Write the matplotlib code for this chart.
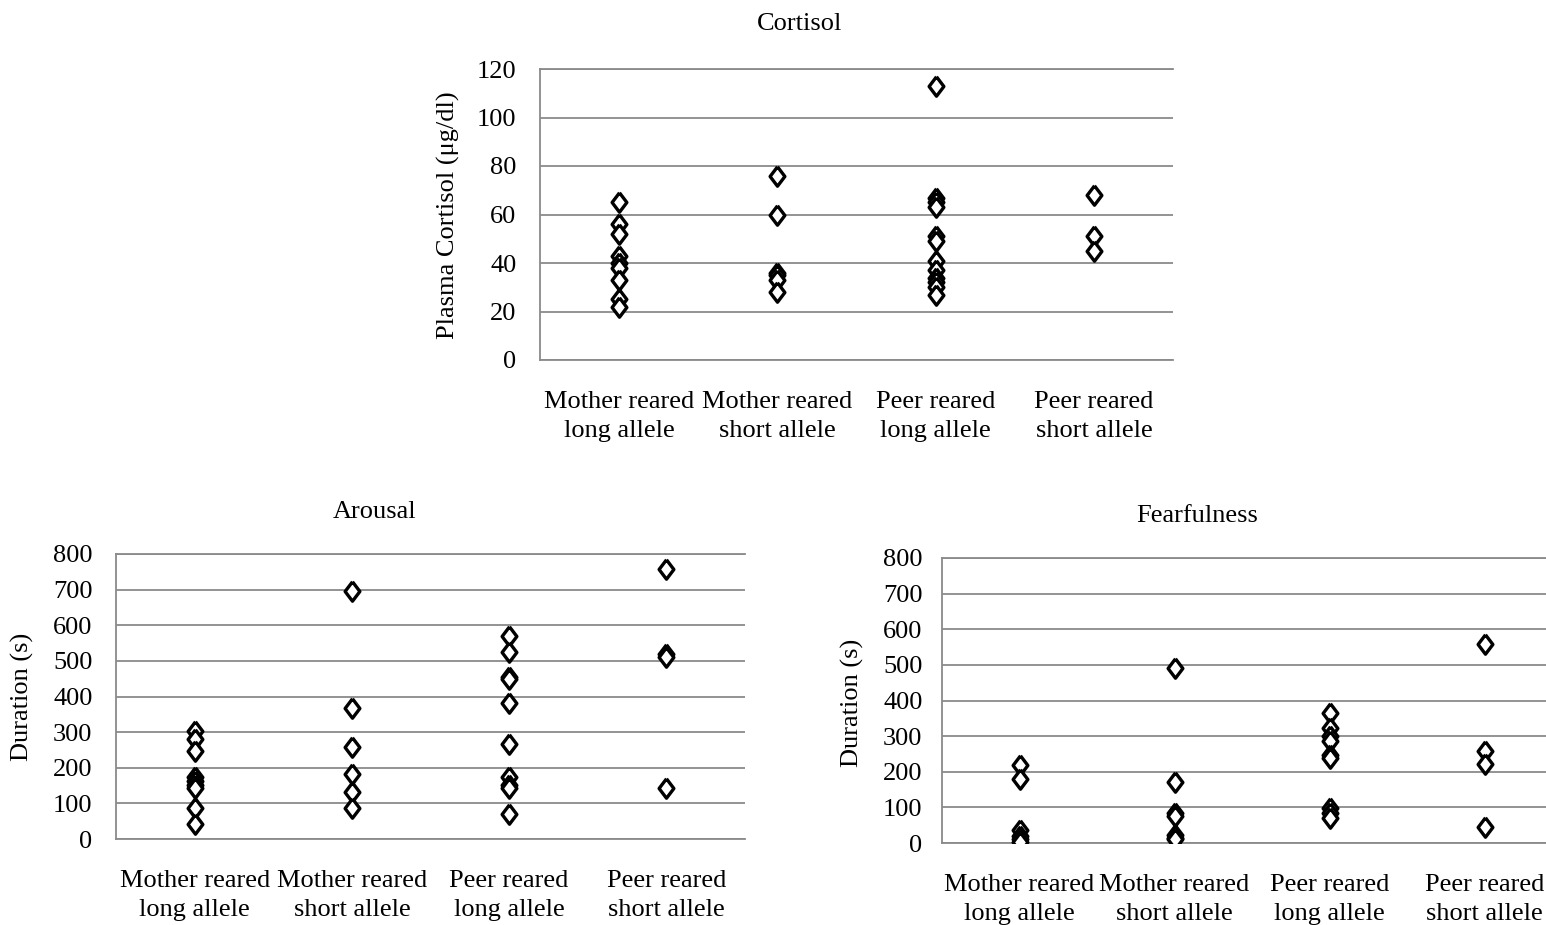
import matplotlib
matplotlib.use("Agg")
import matplotlib.pyplot as plt

groups = ["Mother reared\nlong allele", "Mother reared\nshort allele",
          "Peer reared\nlong allele", "Peer reared\nshort allele"]

# plasma cortisol (ug/dl) per animal
cortisol_ml = [65, 56, 52, 43, 40, 38, 33, 25, 22]
cortisol_ms = [76, 60, 36, 35, 33, 28]
cortisol_pl = [113, 67, 65, 63, 51, 49, 41, 37, 34, 32, 30, 27]
cortisol_ps = [68, 51, 45]

# arousal duration (s)
arousal_ml = [304, 280, 248, 173, 164, 152, 142, 88, 41]
arousal_ms = [696, 367, 259, 182, 131, 86]
arousal_pl = [571, 526, 456, 448, 381, 267, 175, 152, 142, 70]
arousal_ps = [758, 519, 512, 142]

# fearfulness duration (s)
fear_ml = [218, 180, 37, 20, 10, 3]
fear_ms = [491, 171, 84, 75, 23, 15, 10]
fear_pl = [365, 323, 300, 285, 248, 240, 98, 84, 70]
fear_ps = [559, 259, 222, 45]

W, H = 1546, 925
GRID = "#8a8a8a"
FONT = "Liberation Serif"
FS = 19
DIAMOND = [(0, 1), (0.76, 0), (0, -1), (-0.76, 0), (0, 1)]

plt.rcParams["font.family"] = FONT


def px_axes(fig, left, right, top, bottom):
    return fig.add_axes([left / W, 1 - bottom / H, (right - left) / W, (bottom - top) / H])


def scatter_panel(ax, series, ymax, step, ypad):
    for i, vals in enumerate(series, start=1):
        ax.plot([i] * len(vals), vals, linestyle="none", marker=DIAMOND,
                markersize=14, markerfacecolor="white", markeredgecolor="black",
                markeredgewidth=2.4, zorder=3)
    ax.set_xlim(0.5, 4.5)
    ax.set_ylim(0, ymax)
    ax.set_yticks(range(0, ymax + 1, step))
    ax.set_xticks([1, 2, 3, 4])
    ax.set_xticklabels(groups, fontsize=FS, linespacing=1.42)
    ax.tick_params(axis="y", length=0, pad=ypad, labelsize=FS)
    ax.tick_params(axis="x", length=0, pad=22)
    ax.grid(axis="y", color=GRID, linewidth=1.3, zorder=0)
    for side in ("top", "bottom", "left"):
        ax.spines[side].set_color(GRID)
        ax.spines[side].set_linewidth(1.3)
    ax.spines["right"].set_visible(False)


fig = plt.figure(figsize=(W / 100, H / 100), dpi=100)

ax1 = px_axes(fig, 540, 1173, 69, 360)
scatter_panel(ax1, [cortisol_ml, cortisol_ms, cortisol_pl, cortisol_ps], 120, 20, 17)
fig.text(800 / W, 1 - 24 / H, "Cortisol", ha="center", va="center", fontsize=19)
fig.text(448 / W, 1 - 215 / H, "Plasma Cortisol (\u03bcg/dl)", rotation=90,
         ha="center", va="center", fontsize=FS)

ax2 = px_axes(fig, 116, 745, 554, 839)
scatter_panel(ax2, [arousal_ml, arousal_ms, arousal_pl, arousal_ps], 800, 100, 17)
fig.text(375 / W, 1 - 512 / H, "Arousal", ha="center", va="center", fontsize=19)
fig.text(22 / W, 1 - 697 / H, "Duration (s)", rotation=90,
         ha="center", va="center", fontsize=FS)

ax3 = px_axes(fig, 942, 1562, 558, 843)
scatter_panel(ax3, [fear_ml, fear_ms, fear_pl, fear_ps], 800, 100, 14)
fig.text(1197 / W, 1 - 516 / H, "Fearfulness", ha="center", va="center", fontsize=19)
fig.text(852 / W, 1 - 703 / H, "Duration (s)", rotation=90,
         ha="center", va="center", fontsize=FS)

fig.savefig("out.png", dpi=100)
